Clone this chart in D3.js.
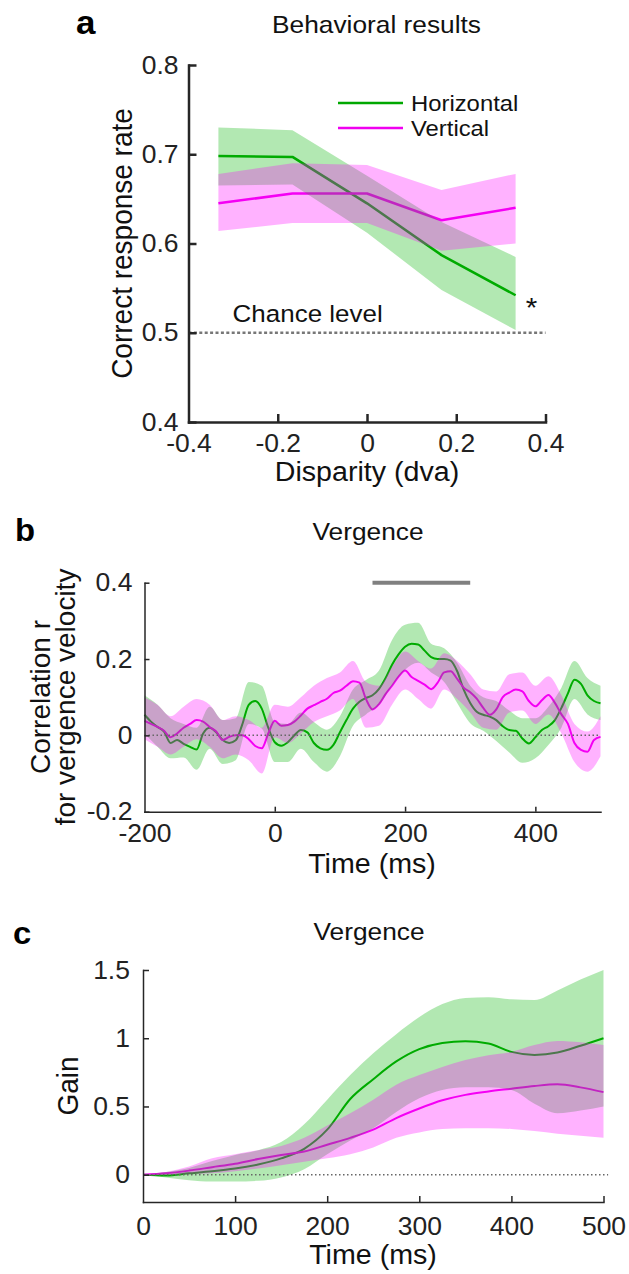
<!DOCTYPE html>
<html>
<head>
<meta charset="utf-8">
<script src="https://cdn.jsdelivr.net/npm/d3@7"></script>
<style>
body { margin: 0; background: #fff; }
svg text { font-family: "Liberation Sans", Arial, Helvetica, sans-serif; }
</style>
</head>
<body>
<svg id="fig" width="629" height="1274"></svg>
<script>
// ---- panel a : behavioral results ----
var disparity = [-0.333, -0.167, 0, 0.167, 0.333];
var rateH   = [0.698, 0.697, 0.645, 0.587, 0.542];
var rateHUp = [0.730, 0.727, 0.676, 0.624, 0.585];
var rateHLo = [0.665, 0.666, 0.612, 0.548, 0.503];
var rateV   = [0.645, 0.656, 0.656, 0.626, 0.640];
var rateVUp = [0.678, 0.690, 0.688, 0.660, 0.678];
var rateVLo = [0.614, 0.623, 0.623, 0.592, 0.600];
var chance = 0.5;
var ticksAX = [-0.4, -0.2, 0, 0.2, 0.4];
var ticksAY = [0.4, 0.5, 0.6, 0.7, 0.8];

// ---- panel b : correlation with vergence velocity (10 ms lines, 20 ms bands) ----
var timeB = d3.range(-200, 501, 10);
var corrH = [0.054, 0.036, 0.022, 0.010, -0.020, -0.012, -0.022, -0.030, -0.037, 0.005,
  0.020, 0.008, -0.012, -0.020, -0.013, 0.028, 0.080, 0.090, 0.070, 0.020,
  -0.018, -0.027, -0.018, 0.000, 0.014, 0.008, -0.020, -0.034, -0.038, -0.025,
  0.008, 0.040, 0.070, 0.088, 0.098, 0.105, 0.122, 0.150, 0.185, 0.212,
  0.232, 0.240, 0.238, 0.222, 0.205, 0.200, 0.200, 0.196, 0.168, 0.120,
  0.085, 0.062, 0.054, 0.049, 0.040, 0.024, 0.014, 0.012, -0.008, -0.021,
  -0.005, 0.014, 0.024, 0.040, 0.072, 0.110, 0.146, 0.135, 0.105, 0.090, 0.084];
var corrV = [0.038, 0.030, 0.022, 0.012, -0.005, 0.005, 0.020, 0.030, 0.040, 0.036,
  0.022, 0.010, -0.012, -0.004, 0.000, 0.000, -0.010, -0.028, -0.034, 0.005,
  0.038, 0.025, 0.027, 0.036, 0.052, 0.070, 0.079, 0.088, 0.096, 0.111,
  0.117, 0.130, 0.142, 0.138, 0.095, 0.068, 0.082, 0.108, 0.130, 0.154,
  0.170, 0.153, 0.143, 0.133, 0.121, 0.138, 0.165, 0.168, 0.148, 0.125,
  0.113, 0.096, 0.072, 0.054, 0.068, 0.100, 0.112, 0.120, 0.115, 0.090,
  0.076, 0.092, 0.106, 0.085, 0.055, 0.030, -0.020, -0.038, -0.043, -0.012, -0.004];
var timeBandB = d3.range(-200, 501, 20);
var corrHUp = [0.105, 0.080, 0.045, 0.030, 0.020, 0.075, 0.040, 0.045, 0.140, 0.130,
  0.035, 0.030, 0.060, 0.035, 0.015, 0.050, 0.120, 0.145, 0.170, 0.250,
  0.290, 0.295, 0.240, 0.228, 0.190, 0.130, 0.100, 0.090, 0.065, 0.045,
  0.045, 0.075, 0.125, 0.195, 0.150, 0.130];
var corrHLo = [0.005, -0.030, -0.060, -0.058, -0.090, -0.035, -0.075, -0.065, 0.030, 0.018,
  -0.070, -0.070, -0.035, -0.070, -0.095, -0.055, 0.025, 0.055, 0.080, 0.130,
  0.172, 0.190, 0.165, 0.140, 0.085, 0.032, 0.012, -0.015, -0.045, -0.072,
  -0.060, -0.025, 0.020, 0.095, 0.055, 0.040];
var corrVUp = [0.100, 0.080, 0.050, 0.075, 0.095, 0.080, 0.040, 0.050, 0.040, 0.020,
  0.080, 0.075, 0.100, 0.130, 0.150, 0.165, 0.195, 0.140, 0.130, 0.180,
  0.220, 0.195, 0.175, 0.215, 0.195, 0.160, 0.120, 0.115, 0.160, 0.165,
  0.130, 0.155, 0.105, 0.030, 0.010, 0.050];
var corrVLo = [-0.010, -0.030, -0.050, -0.030, -0.010, -0.030, -0.060, -0.050, -0.065, -0.100,
  -0.005, -0.020, 0.005, 0.035, 0.050, 0.065, 0.095, 0.020, 0.025, 0.080,
  0.120, 0.095, 0.070, 0.120, 0.095, 0.060, 0.020, 0.015, 0.060, 0.065,
  0.030, 0.055, 0.005, -0.070, -0.095, -0.055];
var sigWindow = [150, 300];
var ticksBX = [-200, 0, 200, 400];
var ticksBY = [-0.2, 0, 0.2, 0.4];

// ---- panel c : vergence gain (25 ms) ----
var timeC = d3.range(0, 501, 25);
var gainH   = [0, -0.005, 0.010, 0.025, 0.045, 0.075, 0.120, 0.190, 0.330, 0.555, 0.700,
  0.830, 0.920, 0.965, 0.978, 0.962, 0.900, 0.878, 0.895, 0.945, 1.000];
var gainHUp = [0, 0.020, 0.050, 0.100, 0.145, 0.180, 0.240, 0.370, 0.550, 0.730, 0.890,
  1.030, 1.155, 1.250, 1.295, 1.300, 1.285, 1.280, 1.350, 1.430, 1.500];
var gainHLo = [0, -0.020, -0.040, -0.050, -0.050, -0.045, -0.020, 0.040, 0.150, 0.250, 0.340,
  0.460, 0.560, 0.620, 0.640, 0.640, 0.620, 0.520, 0.450, 0.470, 0.500];
var gainV   = [0, 0.010, 0.030, 0.055, 0.080, 0.115, 0.145, 0.170, 0.220, 0.270, 0.330,
  0.415, 0.485, 0.545, 0.585, 0.610, 0.630, 0.650, 0.662, 0.640, 0.605];
var gainVUp = [0, 0.020, 0.060, 0.120, 0.150, 0.180, 0.210, 0.270, 0.360, 0.450, 0.550,
  0.660, 0.730, 0.790, 0.840, 0.875, 0.900, 0.950, 0.980, 0.970, 0.950];
var gainVLo = [0, 0, 0.005, 0.010, 0.025, 0.045, 0.070, 0.095, 0.120, 0.150, 0.200,
  0.270, 0.310, 0.335, 0.340, 0.340, 0.335, 0.320, 0.300, 0.285, 0.270];
var ticksCX = [0, 100, 200, 300, 400, 500];
var ticksCY = [0, 0.5, 1, 1.5];

var svg = d3.select("#fig");
var SX = 1.06;          // text in the figure is slightly wider than its height
var AX = "#262626";
var GREEN = "#00a800", GREENFILL = "rgb(0,180,0)";
var MAG = "#f000f0", MAGFILL = "#ff00ff";
var TICKFONT = 25;

function txt(x, y, s, size, anchor, sx) {
  return svg.append("text")
    .attr("transform", "translate(" + x + "," + y + ") scale(" + (sx || SX) + ",1)")
    .attr("text-anchor", anchor || "start")
    .attr("font-size", size)
    .attr("fill", "#111")
    .text(s);
}
function vtxt(x, y, s, size, sx) {
  return svg.append("text")
    .attr("transform", "translate(" + x + "," + y + ") scale(" + (sx || SX) + ",1) rotate(-90)")
    .attr("text-anchor", "middle")
    .attr("font-size", size)
    .attr("fill", "#111")
    .text(s);
}
function fmt(d) { return d === 0 ? "0" : String(d); }

function axes(x, y, xt, yt, opt) {
  var g = svg.append("g");
  var bx = g.append("g").attr("transform", "translate(0," + y.range()[0] + ")")
    .call(d3.axisBottom(x).tickValues(xt).tickFormat(opt.xf || fmt)
      .tickSize(-opt.tick).tickSizeOuter(0).tickPadding(opt.xpad));
  var ly = g.append("g").attr("transform", "translate(" + x.range()[0] + ",0)")
    .call(d3.axisLeft(y).tickValues(yt).tickFormat(opt.yf || fmt)
      .tickSize(-opt.tick).tickSizeOuter(0).tickPadding(opt.ypad));
  g.selectAll(".domain").attr("stroke", AX).attr("stroke-width", opt.w).attr("stroke-linecap", "square");
  g.selectAll(".tick line").attr("stroke", AX).attr("stroke-width", opt.w);
  g.selectAll(".tick text").attr("font-size", TICKFONT).attr("fill", "#222")
    .attr("font-family", "Liberation Sans, Arial, sans-serif")
    .attr("transform", "scale(" + SX + ",1)");
  if (opt.noXTick) bx.selectAll(".tick line").filter(function (d) { return opt.noXTick.indexOf(d) >= 0; }).remove();
  return g;
}

function band(x, y, t, lo, hi, fill, curve) {
  var rows = t.map(function (d, i) { return { t: d, lo: lo[i], hi: hi[i] }; });
  svg.append("path").datum(rows)
    .attr("fill", fill).attr("fill-opacity", 0.3)
    .attr("d", d3.area().x(function (d) { return x(d.t); })
      .y0(function (d) { return y(d.lo); }).y1(function (d) { return y(d.hi); })
      .curve(curve));
}
function line(x, y, t, v, color, w, curve) {
  var rows = t.map(function (d, i) { return { t: d, v: v[i] }; });
  svg.append("path").datum(rows)
    .attr("fill", "none").attr("stroke", color).attr("stroke-width", w)
    .attr("stroke-linejoin", "round")
    .attr("d", d3.line().x(function (d) { return x(d.t); }).y(function (d) { return y(d.v); }).curve(curve));
}

// ================= panel a =================
var xA = d3.scaleLinear().domain([-0.4, 0.4]).range([188.5, 545.5]);
var yA = d3.scaleLinear().domain([0.4, 0.8]).range([422, 65]);

line(xA, yA, disparity, rateH, GREEN, 2.5, d3.curveLinear);
line(xA, yA, disparity, rateV, MAG, 2.5, d3.curveLinear);
band(xA, yA, disparity, rateHLo, rateHUp, GREENFILL, d3.curveLinear);
band(xA, yA, disparity, rateVLo, rateVUp, MAGFILL, d3.curveLinear);

svg.append("line")
  .attr("x1", xA(-0.4)).attr("x2", xA(0.4)).attr("y1", yA(chance)).attr("y2", yA(chance))
  .attr("stroke", "#777").attr("stroke-width", 2.5).attr("stroke-dasharray", "3,2.4");

axes(xA, yA, ticksAX, ticksAY, { tick: 8, w: 2.5, xpad: 12, ypad: 9.4, noXTick: [-0.4] });

txt(76, 34, "a", 33, "start").attr("font-weight", "bold").attr("fill", "#000");
txt(376.5, 32.5, "Behavioral results", 24.8, "middle");
txt(232.6, 321.7, "Chance level", 24.5, "start");
txt(531.5, 317, "*", 28, "middle");
txt(367, 481, "Disparity (dva)", 27, "middle");
vtxt(132, 243.5, "Correct response rate", 28);

// legend
var legend = [["Horizontal", GREEN, 103, 110.5], ["Vertical", MAG, 128, 136]];
legend.forEach(function (l) {
  svg.append("line").attr("x1", 338).attr("x2", 403).attr("y1", l[2]).attr("y2", l[2])
    .attr("stroke", l[1]).attr("stroke-width", 2.5);
  txt(411, l[3], l[0], 22.5, "start");
});

// ================= panel b =================
var xB = d3.scaleLinear().domain([-200, 500]).range([144.5, 600.5]);
var yB = d3.scaleLinear().domain([-0.2, 0.4]).range([811.7, 582.7]);

line(xB, yB, timeB, corrH, GREEN, 2, d3.curveMonotoneX);
line(xB, yB, timeB, corrV, MAG, 2, d3.curveMonotoneX);
band(xB, yB, timeBandB, corrHLo, corrHUp, GREENFILL, d3.curveMonotoneX);
band(xB, yB, timeBandB, corrVLo, corrVUp, MAGFILL, d3.curveMonotoneX);

svg.append("line")
  .attr("x1", xB(-200)).attr("x2", xB(500)).attr("y1", yB(0)).attr("y2", yB(0))
  .attr("stroke", "#666").attr("stroke-width", 1.5).attr("stroke-dasharray", "1.5,2.5");
svg.append("line")
  .attr("x1", xB(sigWindow[0])).attr("x2", xB(sigWindow[1])).attr("y1", yB(0.4)).attr("y2", yB(0.4))
  .attr("stroke", "#808080").attr("stroke-width", 4);

axes(xB, yB, ticksBX, ticksBY, { tick: 5, w: 1.5, xpad: 12.5, ypad: 11.4, noXTick: [-200] });

txt(15, 541, "b", 31, "start").attr("font-weight", "bold").attr("fill", "#000");
txt(368, 540, "Vergence", 24.8, "middle");
txt(372, 873, "Time (ms)", 27, "middle");
vtxt(50, 697, "Correlation r", 28, 1.0);
vtxt(75, 697, "for vergence velocity", 28, 1.0);

// ================= panel c =================
var xC = d3.scaleLinear().domain([0, 500]).range([143, 603.5]);
var yC = d3.scaleLinear().domain([-0.2, 1.5]).range([1202, 970]);

line(xC, yC, timeC, gainH, GREEN, 2, d3.curveMonotoneX);
line(xC, yC, timeC, gainV, MAG, 2, d3.curveMonotoneX);
band(xC, yC, timeC, gainHLo, gainHUp, GREENFILL, d3.curveMonotoneX);
band(xC, yC, timeC, gainVLo, gainVUp, MAGFILL, d3.curveMonotoneX);

svg.append("line")
  .attr("x1", xC(0)).attr("x2", xC(505)).attr("y1", yC(0)).attr("y2", yC(0))
  .attr("stroke", "#666").attr("stroke-width", 1.5).attr("stroke-dasharray", "1.5,2.5");

axes(xC, yC, ticksCX, ticksCY, { tick: 6, w: 1.5, xpad: 15.5, ypad: 12.3, noXTick: [0] });

txt(13, 944, "c", 31, "start").attr("font-weight", "bold").attr("fill", "#000");
txt(369, 940, "Vergence", 24.8, "middle");
txt(373, 1264, "Time (ms)", 27, "middle");
vtxt(78, 1086, "Gain", 28);
</script>
</body>
</html>
